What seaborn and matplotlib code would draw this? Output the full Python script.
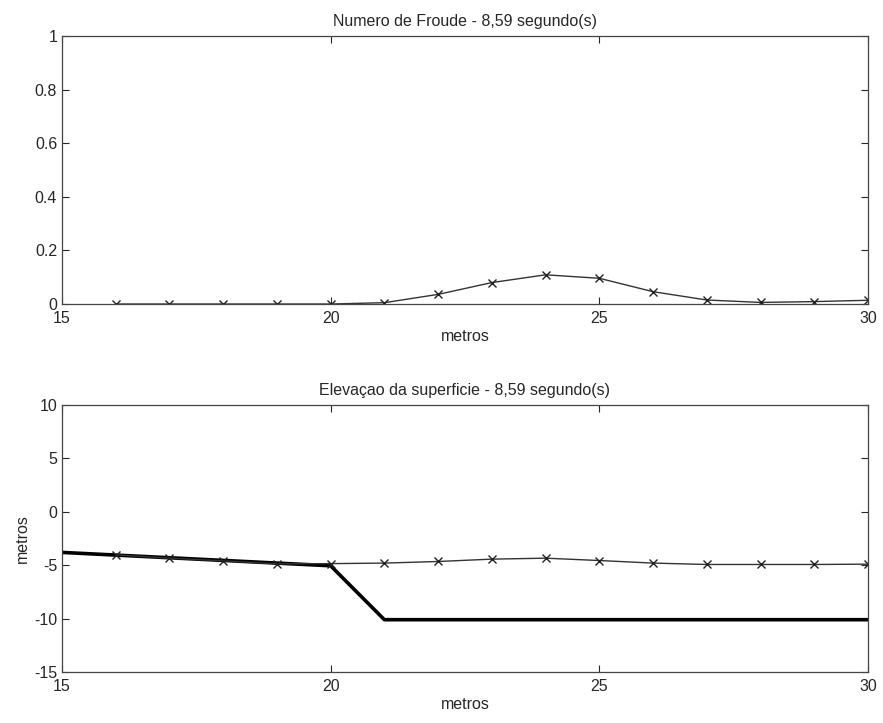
import numpy as np
import pandas as pd
import matplotlib
matplotlib.use("Agg")
import matplotlib.pyplot as plt
import seaborn as sns

# data
x_pts = [16, 17, 18, 19, 20, 21, 22, 23, 24, 25, 26, 27, 28, 29, 30]
froude = [0.0, 0.0, 0.0, 0.0, 0.0, 0.005, 0.036, 0.08, 0.109, 0.096, 0.046, 0.015, 0.006, 0.009, 0.014]
x_surf = [15, 16, 17, 18, 19, 20, 21, 22, 23, 24, 25, 26, 27, 28, 29, 30]
surface = [-3.8, -4.03, -4.34, -4.59, -4.87, -4.85, -4.8, -4.65, -4.43, -4.34, -4.56, -4.8, -4.93, -4.93, -4.93, -4.9]
x_bed = [15, 20, 21, 30]
bed = [-3.8, -5.05, -10.1, -10.1]

df_top = pd.DataFrame({"x": x_pts, "froude": froude})
df_surf = pd.DataFrame({"x": x_surf, "eta": surface})
df_bed = pd.DataFrame({"x": x_bed, "z": bed})

sns.set_style("ticks")
plt.rcParams['font.family'] = ['Liberation Sans', 'DejaVu Sans']
plt.rcParams['xtick.direction'] = 'in'
plt.rcParams['ytick.direction'] = 'in'
plt.rcParams['axes.unicode_minus'] = False

fs = 11.5
fig = plt.figure(figsize=(8.83, 7.23), dpi=100)
ax1 = fig.add_axes([0.0702, 0.5795, 0.9128, 0.3707])
ax2 = fig.add_axes([0.0702, 0.0705, 0.9128, 0.3693])

sns.lineplot(data=df_top, x="x", y="froude", ax=ax1, color="#333333",
             linewidth=1.0, marker="x", markersize=6, markeredgecolor="#222222",
             markeredgewidth=1.0)
ax1.set_xlim(15, 30)
ax1.set_ylim(0, 1)
ax1.set_xticks([15, 20, 25, 30])
ax1.set_yticks([0, 0.2, 0.4, 0.6, 0.8, 1])
ax1.set_yticklabels(["0", "0.2", "0.4", "0.6", "0.8", "1"])
ax1.set_title("Numero de Froude - 8,59 segundo(s)", fontsize=fs, pad=7)
ax1.set_xlabel("metros", fontsize=fs, labelpad=2)
ax1.set_ylabel("")

sns.lineplot(data=df_bed, x="x", y="z", ax=ax2, color="black", linewidth=2.6)
sns.lineplot(data=df_surf.iloc[1:], x="x", y="eta", ax=ax2, color="#333333",
             linewidth=1.0, marker="x", markersize=6, markeredgecolor="#222222",
             markeredgewidth=1.0)
ax2.set_xlim(15, 30)
ax2.set_ylim(-15, 10)
ax2.set_xticks([15, 20, 25, 30])
ax2.set_yticks([-15, -10, -5, 0, 5, 10])
ax2.set_title("Elevaçao da superficie - 8,59 segundo(s)", fontsize=fs, pad=7)
ax2.set_xlabel("metros", fontsize=fs, labelpad=2)
ax2.set_ylabel("metros", fontsize=fs, labelpad=3)

for ax in (ax1, ax2):
    ax.tick_params(top=True, right=True, labelsize=fs, length=5, width=0.8)
    ax.tick_params(axis="x", pad=5)
    ax.tick_params(axis="y", pad=3.5)
    for s in ax.spines.values():
        s.set_visible(True)
        s.set_linewidth(0.9)
        s.set_color("#444444")

fig.savefig("out.png", dpi=100)
